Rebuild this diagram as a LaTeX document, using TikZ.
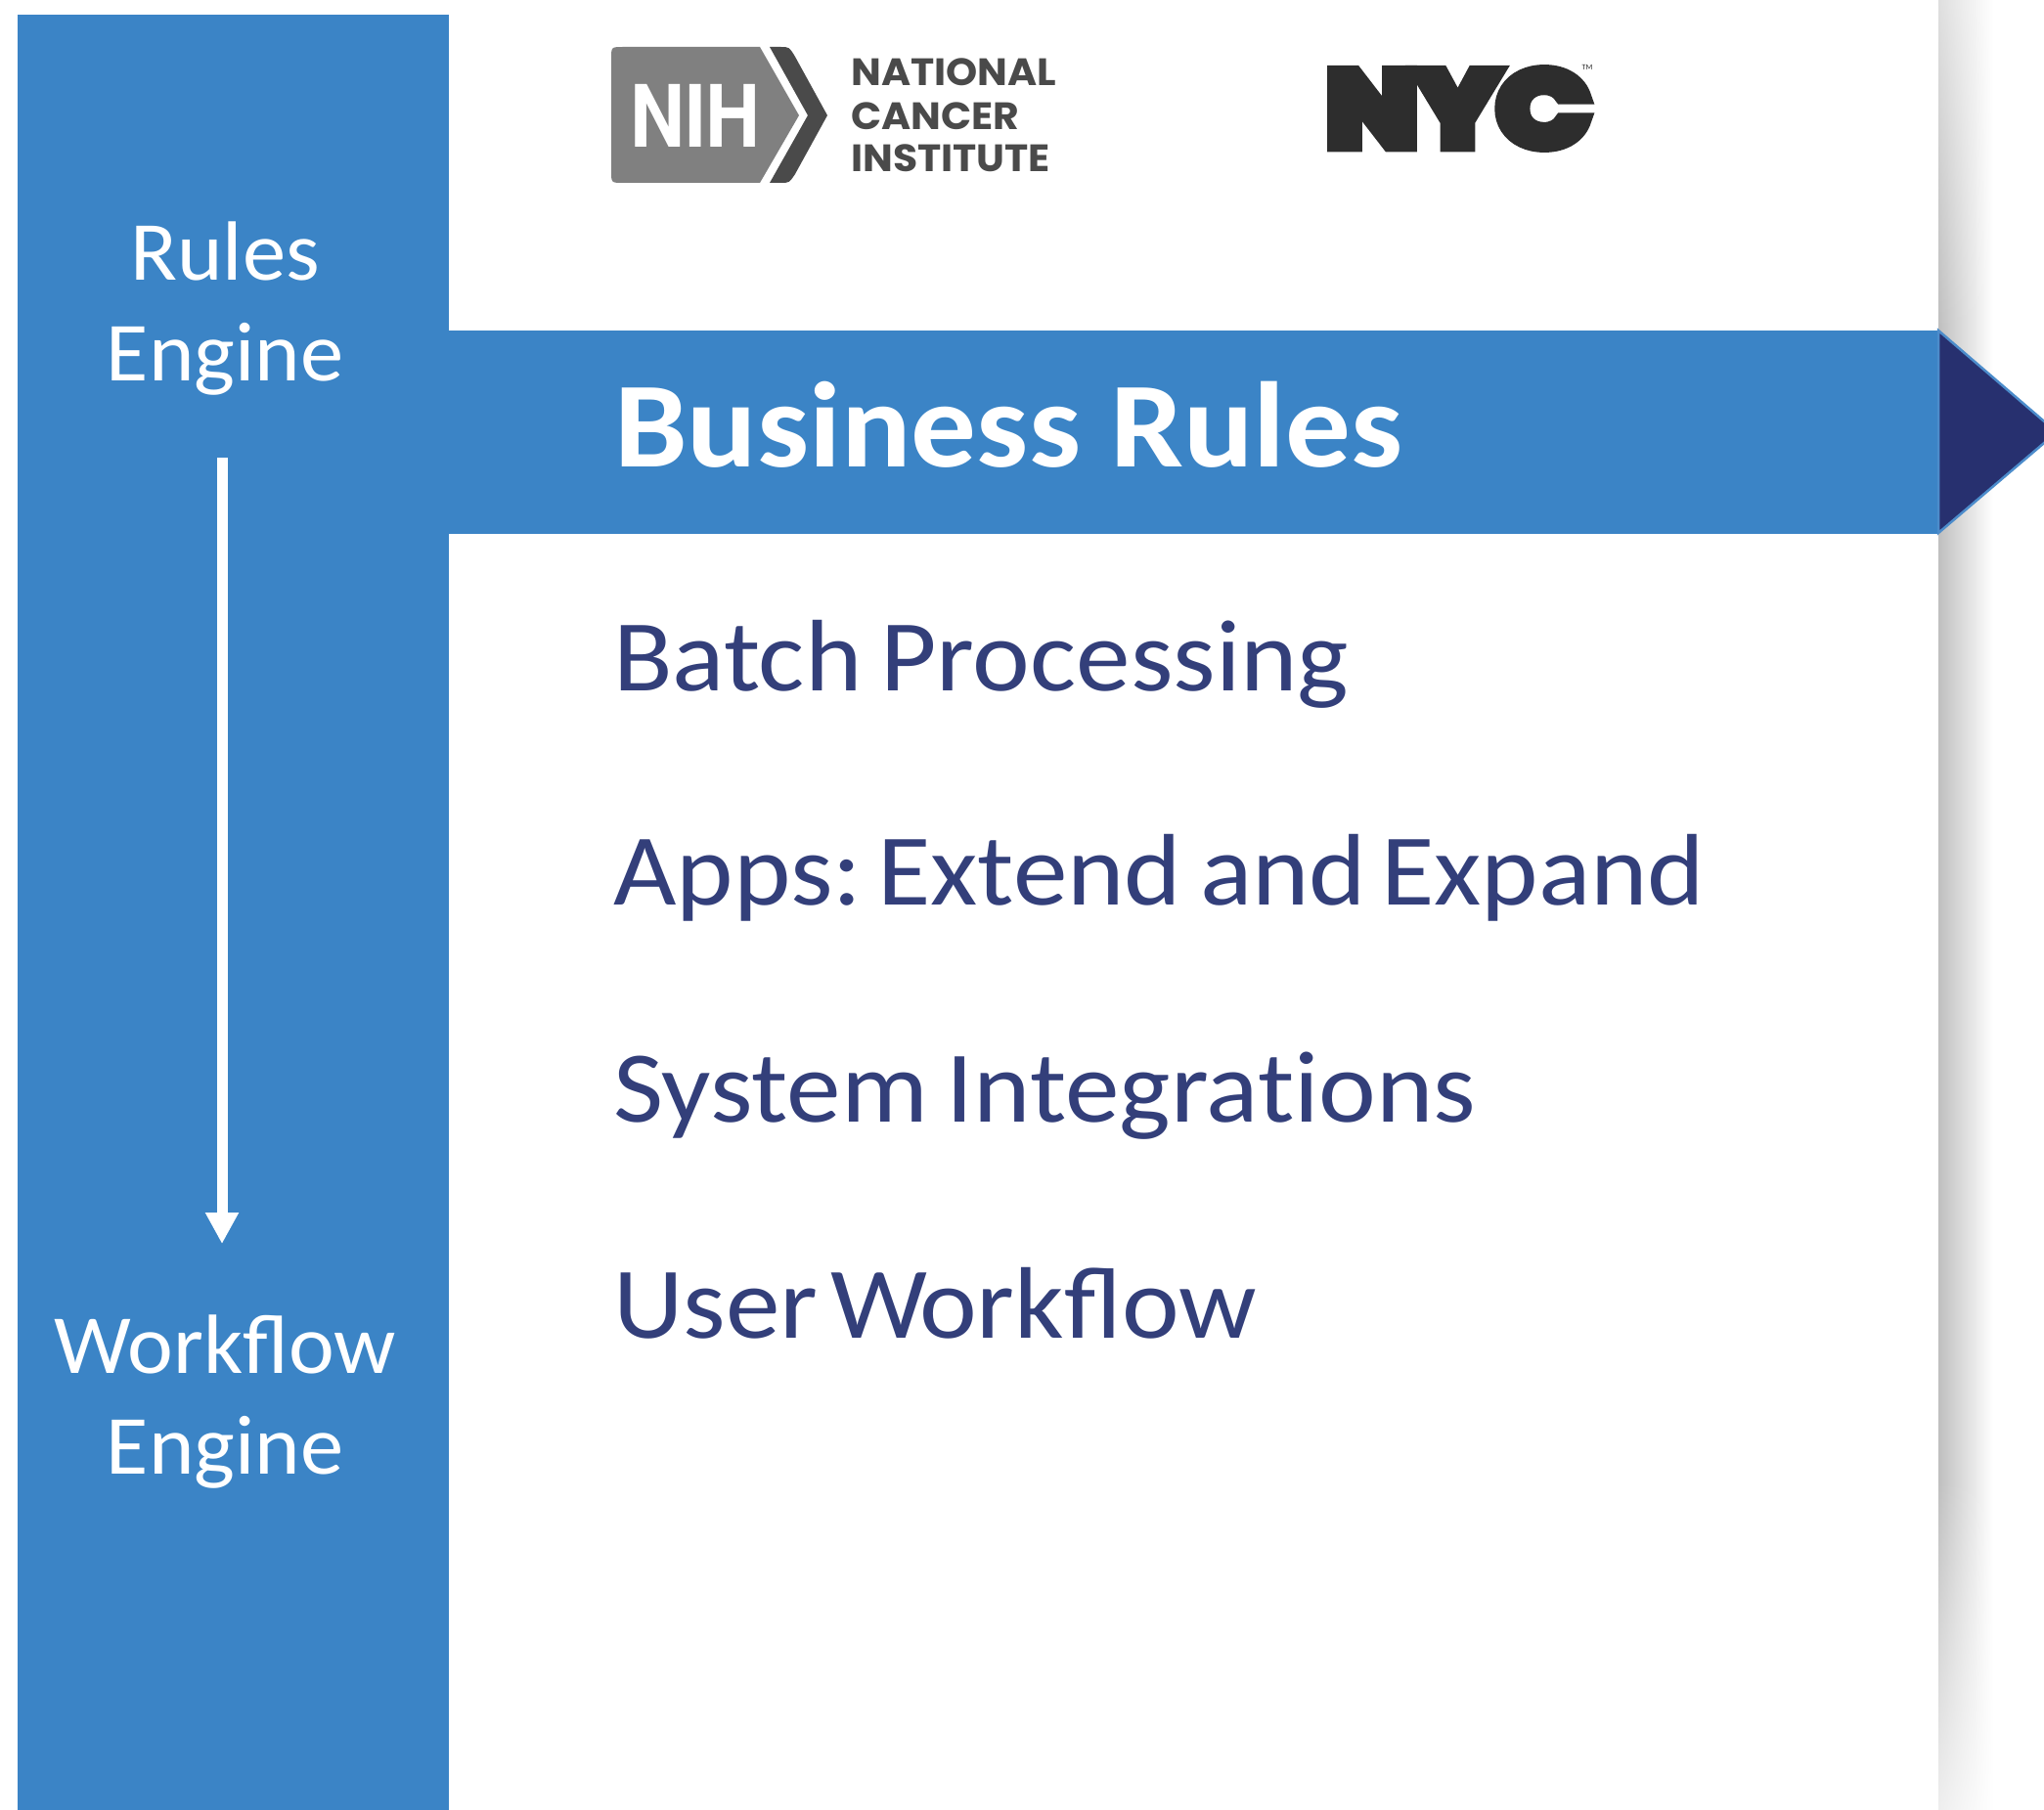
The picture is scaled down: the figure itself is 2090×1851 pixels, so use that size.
\documentclass[tikz,border=0pt]{standalone}
\usepackage{fontspec}
\usepackage{tikz}
\usetikzlibrary{arrows.meta}
\usetikzlibrary{fadings}
\setmainfont{Carlito}
\newfontfamily\sidefont{Carlito}[FakeStretch=1.03]
\newfontfamily\listfont{Carlito}[FakeStretch=1.07,WordSpace=.75]
\newfontfamily\headfont{Carlito}[UprightFont=* Bold,FakeStretch=1.07]
\newfontfamily\logofont{Poppins}[UprightFont=* Bold,FakeStretch=1.05]
\newfontfamily\nihfont{TeX Gyre Heros}[UprightFont=* Bold,FakeStretch=.88]
\newfontfamily\nycfont{Poppins}[UprightFont=* Bold,FakeStretch=1.17,FakeBold=14]
\definecolor{barblue}{HTML}{3B84C6}
\definecolor{edgeblue}{HTML}{4C8CCB}
\definecolor{tipblue}{HTML}{27306F}
\definecolor{listblue}{HTML}{333F7A}
\definecolor{logogray}{HTML}{808080}
\definecolor{logodark}{HTML}{4A4A4A}
\definecolor{nycblack}{HTML}{2D2D2D}
\tikzset{
	sidelabel/.style={text=white, align=center, inner sep=0, font=\sidefont\fontsize{86}{103}\selectfont},
	listlabel/.style={text=listblue, anchor=base west, inner sep=0, font=\listfont\fontsize{104}{104}\selectfont},
	logoline/.style={text=logodark, anchor=base west, inner sep=0, font=\logofont\fontsize{39}{39}\selectfont},
}

\begin{document}
\begin{tikzpicture}[x=1pt, y=-1pt]
	\useasboundingbox (0, 0) rectangle (2090, 1851);

	\shade[left color=black!25, right color=white] (1982, 0) rectangle (2038, 1851);
	\fill[white, opacity=.5, path fading=south] (1982, 0) rectangle (2040, 340);
	\fill[white, opacity=.75, path fading=north] (1982, 1511) rectangle (2040, 1851);

	\fill[barblue] (18, 15) rectangle (459, 1851);
	\fill[barblue] (459, 338) rectangle (1982, 546);
	\filldraw[fill=tipblue, draw=edgeblue, line width=2.5pt] (1982, 338) -- (2103, 442) -- (1982, 545) -- cycle;

	\node[sidelabel] (rules) at (230, 316) {Rules\\Engine};
	\node[sidelabel] (workflow) at (230, 1434) {Workflow\\Engine};
	\draw[white, line width=11pt, -{Triangle[length=32pt, width=32pt]}, shorten <=63pt, shorten >=73pt] ([xshift=-3pt]rules.south) -- ([xshift=-3pt]workflow.north);

	\node[text=white, anchor=base west, inner sep=0, font=\headfont\fontsize{124.5}{125}\selectfont] (business) at (628, 477) {Business Rules};
	\node[listlabel] (batch) at (627, 706) {Batch Processing};
	\node[listlabel] (apps) at (627, 925) {Apps:\kern-3pt\ Extend and\kern-4pt\ Expand};
	\node[listlabel] (system) at (627, 1147) {System Integrat\kern0pt ions};
	\node[listlabel] (user) at (627, 1368) {User\kern-6pt\ W\kern-8pt orkflow};

	% NIH logo
	\fill[logogray] (777, 48) -- (637, 48) .. controls (625, 48) .. (625, 60) -- (625, 175) .. controls (625, 187) .. (637, 187) -- (777, 187) -- (817, 118) -- cycle;
	\fill[logodark] (787, 48) -- (798, 48) .. controls (807, 48) .. (813, 58) -- (846, 118) -- (813, 178) .. controls (807, 187) .. (798, 187) -- (787, 187) -- (826, 118) -- cycle;
	\node[text=white, inner sep=0, font=\nihfont\fontsize{88}{88}\selectfont] (nih) at (711, 118) {NIH};
	\node[logoline] (national) at (870, 88) {NATIONAL};
	\node[logoline] (cancer) at (870, 133) {CANCER};
	\node[logoline] (institute) at (870, 176) {INSTITUTE};

	% NYC logo
	\node[text=nycblack, inner sep=0, font=\nycfont\fontsize{105}{105}\selectfont] (nyc) at (1491, 111) {NYC};
	\node[text=nycblack, inner sep=0, font=\fontsize{8}{8}\selectfont] (tm) at (1623, 69) {TM};
\end{tikzpicture}
\end{document}
